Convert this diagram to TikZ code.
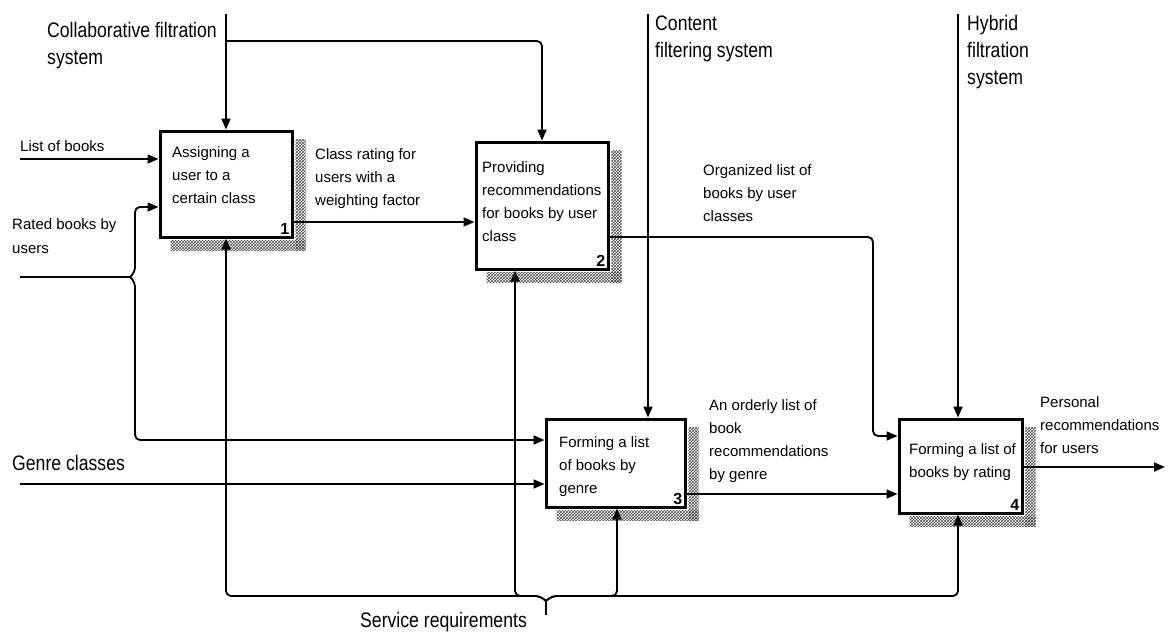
\documentclass[tikz,border=0pt]{standalone}
\usepackage{fontspec}
\setmainfont{Liberation Sans}
\newfontfamily\bigf[FakeStretch=0.84]{Liberation Sans}
\usetikzlibrary{arrows.meta,patterns,calc}
\tikzset{
 box/.style={draw, line width=3pt, inner sep=0pt},
 conn/.style={line width=1.8pt},
 arr/.style={conn, -{Triangle[length=11pt,width=9pt]}, rounded corners=5pt},
 sm/.style={font=\fontsize{15}{23}\selectfont, align=left, inner sep=0pt, anchor=north west},
 lg/.style={font=\bigf\fontsize{21}{27}\selectfont, align=left, inner sep=0pt, anchor=north west},
 num/.style={font=\bfseries\fontsize{16}{16}\selectfont, inner sep=4pt, anchor=south east},
 shade/.style={pattern=crosshatch, pattern color=black!70}
}
\begin{document}
\begin{tikzpicture}[x=1pt,y=-1pt]
\useasboundingbox (0,0) rectangle (1170,641);
% boxes
\node[box, minimum width=132pt, minimum height=106pt] (b1) at (226,184) {};
\node[box, minimum width=132pt, minimum height=127pt] (b2) at (542,205.5) {};
\node[box, minimum width=139pt, minimum height=88pt] (b3) at (615.5,463) {};
\node[box, minimum width=123pt, minimum height=94pt] (b4) at (960.5,466) {};
% shadows
\foreach \b in {b1,b2,b3,b4}{
 \fill[shade] ($(\b.north east)+(1.8,10)$) rectangle ($(\b.south east)+(12,12)$);
 \fill[shade] ($(\b.south west)+(12,1.8)$) rectangle ($(\b.south east)+(12,12)$);
}
% box texts
\node[sm] (t1) at (172,146.5) {Assigning a\\user to a\\certain class};
\node[sm] (t2) at (482,161.5) {Providing\\recommendations\\for books by user\\class};
\node[sm] (t3) at (559,436.5) {Forming a list\\of books by\\genre};
\node[sm] (t4) at (909,443.5) {Forming a list of\\books by rating};
\node[num] (n1) at (b1.south east) {1};
\node[num] (n2) at (b2.south east) {2};
\node[num] (n3) at (b3.south east) {3};
\node[num] (n4) at (b4.south east) {4};
% labels
\node[lg] (lcfs) at (47,22.5) {Collaborative filtration\\system};
\node[lg] (lcont) at (655,15.5) {Content\\filtering system};
\node[lg] (lhyb) at (967,15.5) {Hybrid\\filtration\\system};
\node[lg] (lgen) at (12,455.5) {Genre classes};
\node[lg] (lsr) at (360,612.5) {Service requirements};
\node[sm] (llob) at (20,140.5) {List of books};
\node[sm, font=\fontsize{15}{24}\selectfont] (lrb) at (12,218.5) {Rated books by\\users};
\node[sm] (lcr) at (315,148.5) {Class rating for\\users with a\\weighting factor};
\node[sm] (lorg) at (703,164.5) {Organized list of\\books by user\\classes};
\node[sm] (lord) at (709,399.5) {An orderly list of\\book\\recommendations\\by genre};
\node[sm] (lper) at (1040,396.5) {Personal\\recommendations\\for users};
% coordinates
\coordinate (cfs) at (226,14);
\coordinate (cfsj) at (226,41);
\coordinate (cont) at (648,14);
\coordinate (hyb) at (958,14);
\coordinate (lob) at (20,159);
\coordinate (rb) at (20,277);
\coordinate (rbj) at (130,277);
\coordinate (gc) at (20,484);
\coordinate (out) at (1165,467);
\coordinate (sr) at (546,615);
\coordinate (srj) at (546,601);
% controls from top
\draw[arr] (cfs) -- (b1.north);
\draw[arr] (cfsj) -- (542,41) -- (b2.north);
\draw[arr] (cont) -- (b3.north -| cont);
\draw[arr] (hyb) -- (b4.north -| hyb);
% inputs
\draw[arr] (lob) -- (b1.west |- lob);
\draw[conn] (rb) -- (rbj);
\draw[arr] (rbj) -- (135,272) -- (135,207) -- (b1.west |- 0,207);
\draw[arr] (rbj) -- (135,282) -- (135,440) -- (b3.west |- 0,440);
\draw[arr] (gc) -- (b3.west |- gc);
% flows between boxes
\draw[arr] (b1.east |- 0,222) -- (b2.west |- 0,222);
\draw[arr] (b2.east |- 0,237) -- (873,237) -- (873,436) -- (b4.west |- 0,436);
\draw[arr] (b3.east |- 0,494) -- (b4.west |- 0,494);
\draw[arr] (b4.east |- out) -- (out);
% service requirements
\draw[conn] (sr) -- (srj);
\draw[arr] (srj) -- (540,596) -- (226,596) -- (b1.south);
\draw[arr] (srj) -- (540,596) -- (515,596) -- (b2.south -| 515,0);
\draw[arr] (srj) -- (552,596) -- (617,596) -- (b3.south -| 617,0);
\draw[arr] (srj) -- (552,596) -- (958,596) -- (b4.south -| 958,0);
\end{tikzpicture}
\end{document}
